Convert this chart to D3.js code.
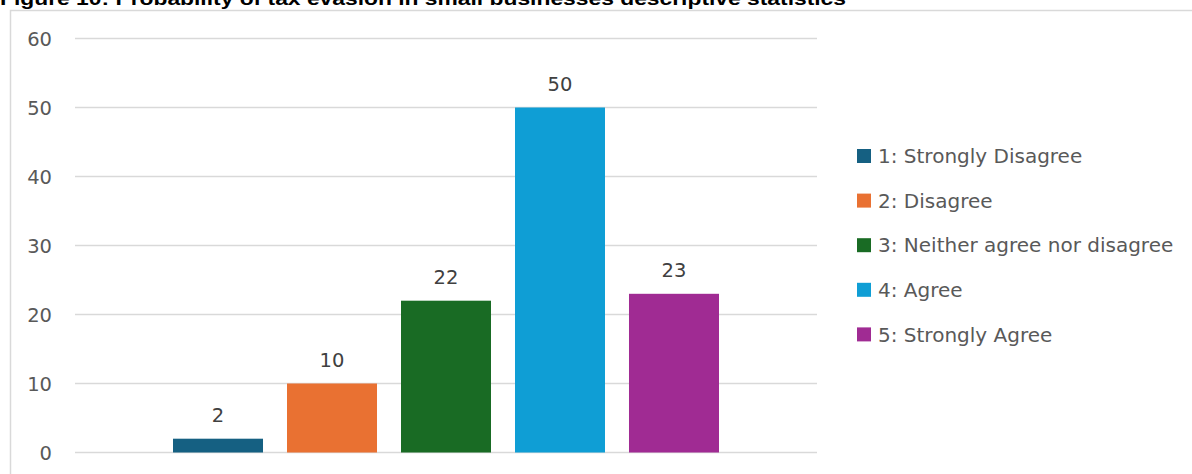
<!DOCTYPE html>
<html>
<head>
<meta charset="utf-8">
<script src="https://cdn.jsdelivr.net/npm/d3@7"></script>
<style>
  html, body { margin: 0; padding: 0; background: #fff; }
  svg { display: block; }
</style>
</head>
<body>
<svg id="chart" width="1192" height="474"></svg>
<script>
// Survey responses: probability of tax evasion in small businesses
const categories = ["1: Strongly Disagree", "2: Disagree", "3: Neither agree nor disagree", "4: Agree", "5: Strongly Agree"];
const values = [2, 10, 22, 50, 23];
const colors = ["#156082", "#E97132", "#196B24", "#0F9ED5", "#A02B93"];
const yTicks = [0, 10, 20, 30, 40, 50, 60];
const title = "Figure 10: Probability of tax evasion in small businesses descriptive statistics";

const svg = d3.select("#chart");
const font = "'DejaVu Sans', sans-serif";
const textColor = "#595959";

// Figure caption (its upper part runs above the page edge)
svg.append("text")
  .attr("x", 0).attr("y", 5)
  .attr("font-family", "'Liberation Sans', Arial, sans-serif")
  .attr("font-weight", "bold")
  .attr("font-size", 19)
  .attr("fill", "#000")
  .attr("textLength", 846)
  .attr("lengthAdjust", "spacingAndGlyphs")
  .text(title);

// Chart frame
svg.append("rect")
  .attr("x", 10.5).attr("y", 10.5)
  .attr("width", 1200).attr("height", 500)
  .attr("fill", "#fff")
  .attr("stroke", "#d9d9d9")
  .attr("stroke-width", 1.5);

const plot = { left: 75, right: 817, top: 38.5, bottom: 452.5 };

const y = d3.scaleLinear().domain([0, 60]).range([plot.bottom, plot.top]);

// One category group holding the five response series
const x0 = d3.scaleBand().domain(["all"]).range([plot.left, plot.right]).paddingOuter(0.1795).paddingInner(0);
const x1 = d3.scaleBand().domain(categories)
  .range([x0("all"), x0("all") + x0.bandwidth()])
  .paddingInner(0.2105).paddingOuter(0);

// Gridlines
svg.append("g").selectAll("line").data(yTicks).join("line")
  .attr("x1", plot.left).attr("x2", plot.right)
  .attr("y1", d => y(d)).attr("y2", d => y(d))
  .attr("stroke", "#d9d9d9").attr("stroke-width", 1.5);

// Y axis labels
const yAxis = d3.axisLeft(y).tickValues(yTicks).tickSize(0).tickPadding(0);
const gy = svg.append("g").attr("transform", "translate(52,0)").call(yAxis);
gy.select(".domain").remove();
gy.selectAll("text")
  .attr("font-family", font).attr("font-size", 19.5)
  .attr("fill", textColor).attr("dy", "0.36em");

// Bars
svg.append("g").selectAll("rect").data(values).join("rect")
  .attr("x", (d, i) => x1(categories[i]))
  .attr("width", x1.bandwidth())
  .attr("y", d => y(d))
  .attr("height", d => y(0) - y(d))
  .attr("fill", (d, i) => colors[i]);

// Value labels
svg.append("g").selectAll("text").data(values).join("text")
  .attr("x", (d, i) => x1(categories[i]) + x1.bandwidth() / 2)
  .attr("y", d => y(d) - 24)
  .attr("dy", "0.36em")
  .attr("text-anchor", "middle")
  .attr("font-family", font).attr("font-size", 19.5)
  .attr("fill", "#404040")
  .text(d => d);

// Legend
const legend = svg.append("g").attr("transform", "translate(857,156)");
const rowGap = 44.6;
const item = legend.selectAll("g").data(categories).join("g")
  .attr("transform", (d, i) => `translate(0,${i * rowGap})`);
item.append("rect")
  .attr("x", 0).attr("y", -7).attr("width", 14).attr("height", 14)
  .attr("fill", (d, i) => colors[i]);
item.append("text")
  .attr("x", 21).attr("y", 0).attr("dy", "0.36em")
  .attr("font-family", font).attr("font-size", 20)
  .attr("fill", textColor)
  .text(d => d);
</script>
</body>
</html>
